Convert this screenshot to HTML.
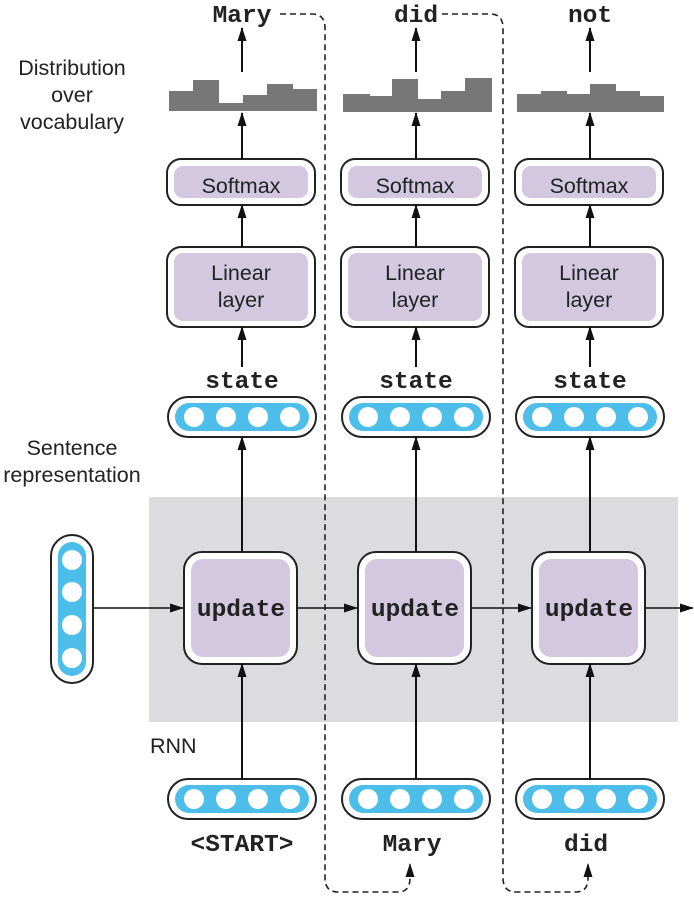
<!DOCTYPE html>
<html><head><meta charset="utf-8"><style>
html,body{margin:0;padding:0;background:#fff;}
svg{display:block;}
.s{font-family:"Liberation Sans",sans-serif;font-size:21.5px;fill:#222;}
.m{font-family:"Liberation Mono",monospace;font-size:24.5px;font-weight:bold;fill:#222;}
</style></head><body>
<svg width="694" height="900" viewBox="0 0 694 900" xmlns="http://www.w3.org/2000/svg">
<defs>
<marker id="a" markerWidth="14" markerHeight="10" refX="13" refY="5" orient="auto" markerUnits="userSpaceOnUse" viewBox="0 0 14 10">
<path d="M0,0.5 L14,5 L0,9.5 z" fill="#111"/></marker>
<g id="vec">
<rect x="-74" y="-20" width="148" height="40" rx="20" fill="#fff" stroke="#222" stroke-width="2"/>
<rect x="-67" y="-14" width="134" height="28" rx="14" fill="#4dbde9"/>
<circle cx="-48" cy="0" r="10" fill="#fff"/><circle cx="-16" cy="0" r="10" fill="#fff"/>
<circle cx="16" cy="0" r="10" fill="#fff"/><circle cx="48" cy="0" r="10" fill="#fff"/>
</g>
<g id="col">
<rect x="-75" y="159" width="148" height="46" rx="14" fill="#fff" stroke="#222" stroke-width="2"/>
<rect x="-68" y="166" width="134" height="32" rx="9" fill="#d3c8e0"/>
<text class="s" x="-1" y="193" text-anchor="middle">Softmax</text>
<rect x="-75" y="247" width="148" height="80" rx="14" fill="#fff" stroke="#222" stroke-width="2"/>
<rect x="-68" y="253" width="134" height="68" rx="9" fill="#d3c8e0"/>
<text class="s" x="-1" y="280" text-anchor="middle">Linear</text>
<text class="s" x="-1" y="307" text-anchor="middle">layer</text>
<line x1="0" y1="72" x2="0" y2="28" stroke="#111" stroke-width="2" marker-end="url(#a)"/>
<line x1="0" y1="159" x2="0" y2="113" stroke="#111" stroke-width="2" marker-end="url(#a)"/>
<line x1="0" y1="247" x2="0" y2="205" stroke="#111" stroke-width="2" marker-end="url(#a)"/>
<line x1="0" y1="367" x2="0" y2="327" stroke="#111" stroke-width="2" marker-end="url(#a)"/>
<text class="m" x="0" y="388" text-anchor="middle">state</text>
<use href="#vec" x="0" y="417"/>
</g>
</defs>

<rect x="149" y="497" width="529" height="225" fill="#dcdcde"/>

<text class="s" x="72" y="75" text-anchor="middle">Distribution</text>
<text class="s" x="72" y="102" text-anchor="middle">over</text>
<text class="s" x="72" y="129" text-anchor="middle">vocabulary</text>
<text class="s" x="72" y="455" text-anchor="middle">Sentence</text>
<text class="s" x="72" y="482" text-anchor="middle">representation</text>
<text class="s" x="150" y="753">RNN</text>

<path d="M169,111 V91 H193 V80 H219 V103 H243 V95 H267 V84 H293 V89 H317 V111 Z" fill="#777"/>
<path d="M343,112 V94 H370 V96 H392 V79 H418 V99 H441 V91 H465 V78 H492 V112 Z" fill="#777"/>
<path d="M517,112 V94 H541 V91 H567 V94 H590 V84 H616 V91 H640 V96 H664 V112 Z" fill="#777"/>

<use href="#col" x="242" y="0"/>
<use href="#col" x="416" y="0"/>
<use href="#col" x="590" y="0"/>

<text class="m" x="242" y="22" text-anchor="middle">Mary</text>
<text class="m" x="416" y="22" text-anchor="middle">did</text>
<text class="m" x="590" y="22" text-anchor="middle">not</text>

<path d="M280,14 H312 Q325,14 325,28 V878 Q325,892 338,892 H398 Q410,892 410,878 V864" fill="none" stroke="#222" stroke-width="1.6" stroke-dasharray="6,4" marker-end="url(#a)"/>
<path d="M442,14 H490 Q503,14 503,28 V878 Q503,892 516,892 H576 Q588,892 588,878 V864" fill="none" stroke="#222" stroke-width="1.6" stroke-dasharray="6,4" marker-end="url(#a)"/>

<rect x="51" y="535" width="42" height="148" rx="21" fill="#fff" stroke="#222" stroke-width="2"/>
<rect x="58" y="542" width="28" height="134" rx="14" fill="#4dbde9"/>
<circle cx="72" cy="560" r="10" fill="#fff"/><circle cx="72" cy="592" r="10" fill="#fff"/>
<circle cx="72" cy="625" r="10" fill="#fff"/><circle cx="72" cy="658" r="10" fill="#fff"/>

<g>
<rect x="184" y="552" width="113" height="112" rx="18" fill="#fff" stroke="#222" stroke-width="2"/>
<rect x="191" y="559" width="99" height="98" rx="12" fill="#d3c8e0"/>
<text class="m" x="241" y="616" text-anchor="middle">update</text>
<rect x="358" y="552" width="113" height="112" rx="18" fill="#fff" stroke="#222" stroke-width="2"/>
<rect x="365" y="559" width="99" height="98" rx="12" fill="#d3c8e0"/>
<text class="m" x="415" y="616" text-anchor="middle">update</text>
<rect x="532" y="552" width="113" height="112" rx="18" fill="#fff" stroke="#222" stroke-width="2"/>
<rect x="539" y="559" width="99" height="98" rx="12" fill="#d3c8e0"/>
<text class="m" x="589" y="616" text-anchor="middle">update</text>
</g>

<line x1="93" y1="608" x2="183" y2="608" stroke="#111" stroke-width="1.6" marker-end="url(#a)"/>
<line x1="297" y1="608" x2="357" y2="608" stroke="#111" stroke-width="1.6" marker-end="url(#a)"/>
<line x1="471" y1="608" x2="531" y2="608" stroke="#111" stroke-width="1.6" marker-end="url(#a)"/>
<line x1="645" y1="608" x2="693" y2="608" stroke="#111" stroke-width="1.6" marker-end="url(#a)"/>

<line x1="242" y1="552" x2="242" y2="437" stroke="#111" stroke-width="2" marker-end="url(#a)"/>
<line x1="416" y1="552" x2="416" y2="437" stroke="#111" stroke-width="2" marker-end="url(#a)"/>
<line x1="590" y1="552" x2="590" y2="437" stroke="#111" stroke-width="2" marker-end="url(#a)"/>

<use href="#vec" x="242" y="799"/>
<use href="#vec" x="416" y="799"/>
<use href="#vec" x="590" y="799"/>
<line x1="242" y1="779" x2="242" y2="664" stroke="#111" stroke-width="2" marker-end="url(#a)"/>
<line x1="416" y1="779" x2="416" y2="664" stroke="#111" stroke-width="2" marker-end="url(#a)"/>
<line x1="590" y1="779" x2="590" y2="664" stroke="#111" stroke-width="2" marker-end="url(#a)"/>

<text class="m" x="242" y="851" text-anchor="middle">&lt;START&gt;</text>
<text class="m" x="412" y="851" text-anchor="middle">Mary</text>
<text class="m" x="586" y="851" text-anchor="middle">did</text>
</svg>
</body></html>
